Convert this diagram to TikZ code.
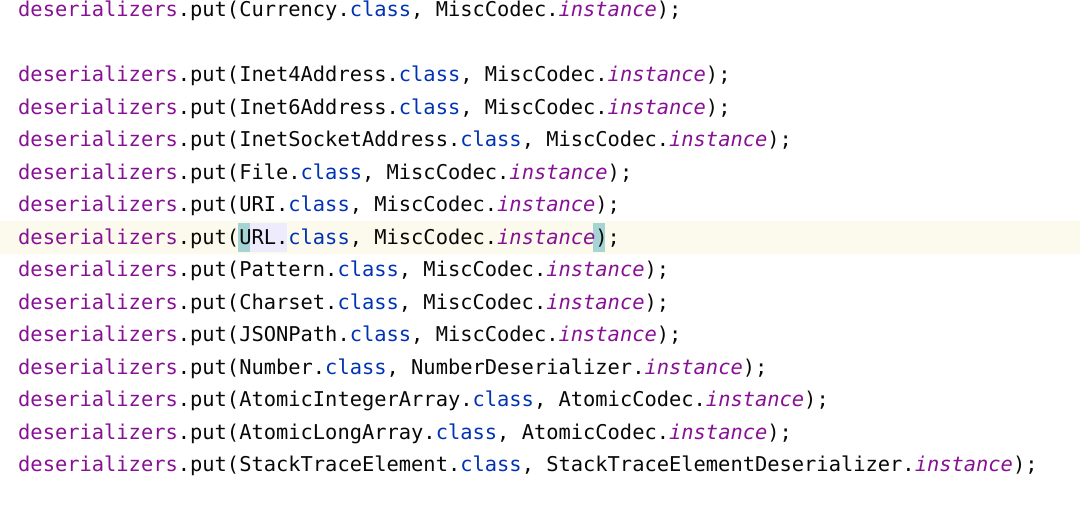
\documentclass[tikz,border=0pt]{standalone}
\usepackage{fontspec}
\setmonofont{DejaVu Sans Mono}
\definecolor{kw}{HTML}{0033B3}
\definecolor{pu}{HTML}{871094}
\definecolor{tx}{HTML}{080808}
\definecolor{hl}{HTML}{FCFAED}
\definecolor{br}{HTML}{A6D3D4}
\definecolor{lv}{HTML}{EDEBFC}
\newcommand{\dz}{\textcolor{pu}{deserializers}}
\newcommand{\kcl}{\textcolor{kw}{class}}
\newcommand{\ins}{\textcolor{pu}{\itshape instance}}
\newcommand{\codeln}[2]{\dz.put(#1.\kcl, #2.\ins);}
\begin{document}
\begin{tikzpicture}[x=1pt,y=1pt,code/.style={anchor=base west,inner sep=0pt,font=\ttfamily\fontsize{20.4}{24}\selectfont,text=tx}]
\useasboundingbox (0,0) rectangle (1080,509);
\fill[white] (0,0) rectangle (1080,509);
\fill[hl] (0,509-221) rectangle (1080,509-254);
\fill[br] (237.8,509-223) rectangle (250.2,509-252);
\fill[lv] (250.2,509-223) rectangle (287.4,509-252);
\fill[br] (592.5,509-223) rectangle (604.9,509-252);
\node[code] (l0) at (18,509-17) {\codeln{Currency}{MiscCodec}};
\node[code] (l1) at (18,509-82) {\codeln{Inet4Address}{MiscCodec}};
\node[code] (l2) at (18,509-114.5) {\codeln{Inet6Address}{MiscCodec}};
\node[code] (l3) at (18,509-147) {\codeln{InetSocketAddress}{MiscCodec}};
\node[code] (l4) at (18,509-179.5) {\codeln{File}{MiscCodec}};
\node[code] (l5) at (18,509-212) {\codeln{URI}{MiscCodec}};
\node[code] (l6) at (18,509-244.5) {\codeln{URL}{MiscCodec}};
\node[code] (l7) at (18,509-277) {\codeln{Pattern}{MiscCodec}};
\node[code] (l8) at (18,509-309.5) {\codeln{Charset}{MiscCodec}};
\node[code] (l9) at (18,509-342) {\codeln{JSONPath}{MiscCodec}};
\node[code] (l10) at (18,509-374.5) {\codeln{Number}{NumberDeserializer}};
\node[code] (l11) at (18,509-407) {\codeln{AtomicIntegerArray}{AtomicCodec}};
\node[code] (l12) at (18,509-439.5) {\codeln{AtomicLongArray}{AtomicCodec}};
\node[code] (l13) at (18,509-472) {\codeln{StackTraceElement}{StackTraceElementDeserializer}};
\end{tikzpicture}
\end{document}
